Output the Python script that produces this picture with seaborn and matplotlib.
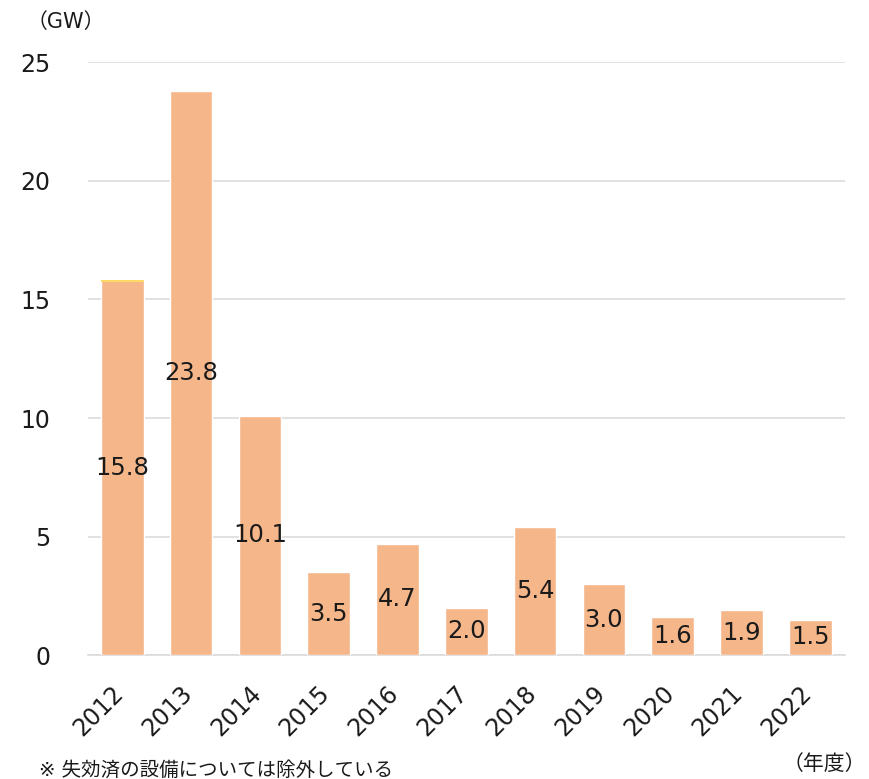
import matplotlib
matplotlib.use("Agg")
import matplotlib.pyplot as plt
import matplotlib.transforms as mtransforms
import seaborn as sns
import pandas as pd
import numpy as np

# Annual newly certified capacity (GW) by fiscal year
years = ["2012", "2013", "2014", "2015", "2016", "2017", "2018", "2019", "2020", "2021", "2022"]
capacity = [15.8, 23.8, 10.1, 3.5, 4.7, 2.0, 5.4, 3.0, 1.6, 1.9, 1.5]
# thin secondary segment shown on top of the first bar
secondary = [0.08, 0, 0, 0, 0, 0, 0, 0, 0, 0, 0]
y_ticks = [0, 5, 10, 15, 20, 25]

bar_color = "#F5B68A"
cap_color = "#FFD966"
grid_color = "#D9D9D9"

sns.set_theme(style="white")
plt.rcParams["font.family"] = ["DejaVu Sans", "Noto Sans CJK JP"]

df = pd.DataFrame({"year": years, "capacity": capacity})

fig = plt.figure(figsize=(8.7, 7.79), dpi=100)
ax = fig.add_axes([0.101, 0.159, 0.870, 0.761])

sns.barplot(data=df, x="year", y="capacity", color=bar_color, width=0.62,
            saturation=1, ax=ax, zorder=3)

# secondary thin segment on the first bar
sec_base = np.array(capacity) - np.array(secondary)
ax.bar(np.arange(len(years)), secondary, bottom=sec_base, width=0.62,
       color=cap_color, linewidth=0, zorder=4)

# value labels centred inside each bar
for i, v in enumerate(capacity):
    ax.text(i, v / 2, f"{v:.1f}", ha="center", va="center",
            fontsize=17.5, color="#1a1a1a", zorder=5)

ax.set_ylim(0, 25)
ax.set_xlim(-0.5, len(years) - 0.5)
ax.set_yticks(y_ticks)
ax.set_yticklabels([str(t) for t in y_ticks], fontsize=17, color="#1a1a1a")
ax.yaxis.grid(True, color=grid_color, linewidth=1.1, zorder=0)
ax.tick_params(axis="y", length=0, pad=27)
ax.tick_params(axis="x", length=0, pad=19)
ax.set_xlabel("")
ax.set_ylabel("")

for lab in ax.get_xticklabels():
    lab.set_rotation(45)
    lab.set_ha("right")
    lab.set_va("top")
    lab.set_fontsize(17)
    lab.set_color("#1a1a1a")
    lab.set_transform(lab.get_transform() +
                      mtransforms.ScaledTranslation(6 / 100, 0, fig.dpi_scale_trans))

for side in ["top", "right", "left"]:
    ax.spines[side].set_visible(False)
ax.spines["bottom"].set_color(grid_color)
ax.spines["bottom"].set_linewidth(1.1)
ax.spines["bottom"].set_zorder(2)

fig.text(0.030, 0.972, "（GW）", fontsize=15, color="#1a1a1a", ha="left", va="center")
fig.text(0.995, 0.019, "（年度）", fontsize=15, color="#1a1a1a", ha="right", va="center")
fig.text(0.045, 0.011, "※ 失効済の設備については除外している", fontsize=14,
         color="#1a1a1a", ha="left", va="center")

fig.savefig("out.png", dpi=100, facecolor="white")
